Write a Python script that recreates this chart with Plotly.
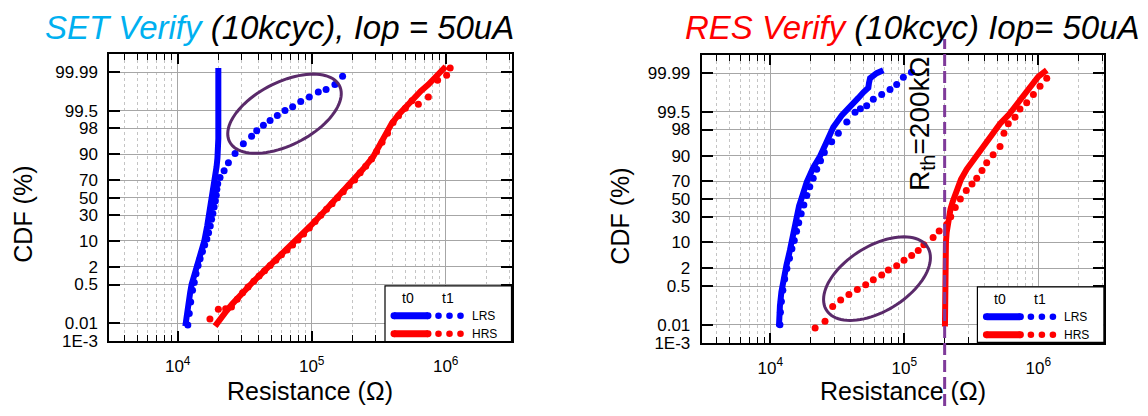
import math
from statistics import NormalDist
import plotly.graph_objects as go

W, H = 1148, 416
FONT = "Liberation Sans, Arial, sans-serif"

# ---------------- data (Resistance in ohm, CDF in %) ----------------
# Left panel: SET Verify
set_lrs_t0_r = [11400, 11600, 12000, 12400, 12700, 13300, 13900, 14800, 15800, 16600, 17400,
                18200, 18700, 19000, 19500, 19800, 20000, 20100, 20100, 20100, 20100]
set_lrs_t0_cdf = [0.007, 0.02, 0.08, 0.25, 0.5, 1, 2, 5, 10, 20, 35,
                  50, 62, 70, 82, 88, 92, 96, 99.5, 99.95, 99.994]

set_lrs_t1_r = [11900, 12200, 12500, 12900, 13300, 13700, 14200, 14700, 15300, 15900, 16500,
                17000, 17500, 17900, 18300, 18700, 19100, 19400, 19600, 19900, 20700, 22200,
                23900, 26800, 30900, 35600, 38900, 43600, 48900, 55400, 63200, 72100, 82800,
                96000, 112000, 128000, 149000, 170000]
set_lrs_t1_cdf = [0.008, 0.03, 0.1, 0.3, 0.6, 1.2, 2.2, 3.5, 5.5, 8, 11,
                  15, 20, 26, 32, 39, 46, 53, 60, 66, 72.6, 78.7,
                  85.0, 90.45, 94.5, 96.6, 97.63, 98.41, 98.90, 99.26, 99.51, 99.65, 99.782,
                  99.859, 99.913, 99.933, 99.960, 99.984]

set_hrs_t0_r = [19000, 20500, 23200, 25500, 28000, 30900, 34000, 37300, 40800, 44300, 51800,
                59600, 68200, 77300, 90200, 103000, 122000, 145000, 171000, 205000, 241000,
                289000, 321000, 353000, 395000, 443000, 490000, 574000, 651000, 742000,
                832000, 960000, 1000000]
set_hrs_t0_cdf = [0.007, 0.015, 0.04, 0.08, 0.15, 0.28, 0.45, 0.7, 1.05, 1.5, 2.8,
                  4.6, 7.0, 10, 16, 22.7, 33, 45, 57, 69, 80,
                  89, 94, 96.8, 98.6, 99.3, 99.6, 99.85, 99.92, 99.96,
                  99.98, 99.992, 99.995]

set_hrs_t1_r = [17400, 20100, 22800, 25200, 27800, 30500, 33500, 37000, 40500, 44500, 49000,
                54000, 59500, 65500, 72000, 79000, 87000, 96000, 106000, 117000, 129000,
                142000, 156000, 172000, 190000, 209000, 230000, 253000, 280000, 305000,
                335000, 368000, 405000, 445000, 500000, 560000, 625000, 742000, 870000,
                1016000, 1080000]
set_hrs_t1_cdf = [0.016, 0.047, 0.05, 0.06, 0.13, 0.24, 0.4, 0.66, 1.0, 1.5, 2.2,
                  3.2, 4.5, 6.0, 8.0, 10.5, 14, 18.5, 24, 30, 36.5,
                  43, 50, 57, 64, 70, 77, 82.5, 87.5, 91.5,
                  95, 97.2, 98.7, 99.25, 99.6, 99.8, 99.72, 99.86, 99.975,
                  99.986, 99.994]

# Right panel: RES Verify
res_lrs_t0_r = [11600, 11650, 11800, 12100, 12500, 13200, 14000, 14800, 15700, 16400, 17100,
                18700, 20900, 23500, 26400, 29500, 34100, 39400, 45400, 49500, 53900,
                54500, 55500, 62200, 69700]
res_lrs_t0_cdf = [0.008, 0.03, 0.08, 0.3, 0.84, 2.5, 6.4, 15, 32, 42, 50.6,
                  69, 82.3, 89.7, 95.5, 98.3, 99.32, 99.66, 99.86, 99.92, 99.95,
                  99.97, 99.982, 99.99, 99.993]

res_lrs_t1_r = [11800, 11900, 12100, 12400, 12800, 13300, 13900, 14500, 15100, 15700, 16300,
                17000, 17800, 18700, 19700, 20900, 22200, 23700, 25300, 28700, 32200,
                37200, 42900, 47000, 52400, 58700, 67800, 78200, 87700, 98400, 113000]
res_lrs_t1_cdf = [0.01, 0.04, 0.12, 0.35, 0.9, 2.0, 4.0, 7.0, 11, 17, 24,
                  33, 43, 54, 64, 73, 81, 87, 91.5, 95.5, 97.4,
                  98.86, 99.48, 99.62, 99.71, 99.84, 99.90, 99.94, 99.964, 99.984, 99.991]

res_hrs_t0_r = [201000, 201000, 201000, 201500, 202000, 202500, 203000, 204500, 207000, 210000,
                214000, 221000, 230000, 246000, 265000, 292000, 335000, 389000, 450000, 518000,
                600000, 690000, 800000, 919000, 1000000, 1156000]
res_hrs_t0_cdf = [0.008, 0.03, 0.1, 0.4, 1.2, 3, 6, 10, 16, 22,
                  29, 38, 47, 62, 72, 81, 88.5, 94, 97, 98.7,
                  99.35, 99.75, 99.9, 99.97, 99.985, 99.993]

res_hrs_t1_r = [21600, 25600, 29200, 33500, 38600, 44600, 51500, 58700, 67800, 76000, 87700,
                99500, 113500, 127000, 140000, 164000, 182000, 207000, 222000, 240000, 262000,
                290000, 320000, 347000, 380000, 412000, 460000, 518000, 554000, 597000, 670000,
                730000, 819000, 919000, 1030000, 1156000]
res_hrs_t1_cdf = [0.0068, 0.0147, 0.074, 0.141, 0.236, 0.368, 0.562, 0.84, 1.235, 1.78, 2.41,
                  3.49, 4.75, 6.36, 8.82, 12.7, 17.2, 22.5, 30, 40, 50,
                  60, 67, 73, 80, 85.8, 90.5, 94, 97.4, 98.7, 99.22,
                  99.61, 99.78, 99.90, 99.957, 99.982]

R_TH = 200000  # threshold resistance (ohm)

Y_TICKS = [0.001, 0.01, 0.5, 2, 10, 30, 50, 70, 90, 98, 99.5, 99.99]
Y_TICK_TEXT = ["1E-3", "0.01", "0.5", "2", "10", "30", "50", "70", "90", "98", "99.5", "99.99"]
X_MAJOR = [1e4, 1e5, 1e6]
X_MAJOR_TEXT = ["10<sup>4</sup>", "10<sup>5</sup>", "10<sup>6</sup>"]
X_MINOR = [m * 10 ** e for e in (3, 4, 5, 6) for m in range(2, 10)]

BLUE = "#0000FF"
RED = "#FF0000"
PURPLE_ELL = "#5A2A6A"
PURPLE_DASH = "#7F3A9A"

nd = NormalDist()


def probit(vals):
    return [nd.inv_cdf(v / 100.0) for v in vals]


ZLIM = -nd.inv_cdf(0.001 / 100.0)

# ---------------- layout geometry (pixels) ----------------
L_X0, L_X1 = 109.3, 511.5
R_X0, R_X1 = 701.7, 1103.7
L_Y0, L_Y1 = 55.2, 349.9
R_Y0, R_Y1 = 56.1, 351.6
XR_L = [3.4896, 6.491]
XR_R = [3.488, 6.488]

fig = go.Figure()


def add_series(r, cdf, color, dotted, xa, ya):
    if dotted:
        fig.add_trace(go.Scatter(x=r, y=probit(cdf), mode="markers", xaxis=xa, yaxis=ya,
                                 marker=dict(color=color, size=7, line=dict(width=0)),
                                 showlegend=False, hoverinfo="skip"))
    else:
        fig.add_trace(go.Scatter(x=r, y=probit(cdf), mode="lines", xaxis=xa, yaxis=ya,
                                 line=dict(color=color, width=6),
                                 showlegend=False, hoverinfo="skip"))


add_series(set_lrs_t0_r, set_lrs_t0_cdf, BLUE, False, "x", "y")
add_series(set_hrs_t0_r, set_hrs_t0_cdf, RED, False, "x", "y")
add_series(set_lrs_t1_r, set_lrs_t1_cdf, BLUE, True, "x", "y")
add_series(set_hrs_t1_r, set_hrs_t1_cdf, RED, True, "x", "y")
add_series(res_lrs_t0_r, res_lrs_t0_cdf, BLUE, False, "x2", "y2")
add_series(res_hrs_t0_r, res_hrs_t0_cdf, RED, False, "x2", "y2")
add_series(res_lrs_t1_r, res_lrs_t1_cdf, BLUE, True, "x2", "y2")
add_series(res_hrs_t1_r, res_hrs_t1_cdf, RED, True, "x2", "y2")


def xaxis(x0, x1, rng, anchor):
    return dict(type="log", range=rng, domain=[x0 / W, x1 / W], anchor=anchor,
                tickmode="array", tickvals=X_MAJOR, ticktext=X_MAJOR_TEXT,
                ticks="inside", ticklen=10, tickwidth=1.5, tickcolor="black",
                showline=True, linecolor="black", linewidth=2, mirror="ticks",
                showgrid=True, gridcolor="#a6a6a6", gridwidth=1, zeroline=False,
                minor=dict(tickmode="array", tickvals=X_MINOR, ticks="inside", ticklen=6,
                           tickwidth=1.2, tickcolor="black", showgrid=True,
                           gridcolor="#c4c4c4", griddash="dot", gridwidth=1),
                tickfont=dict(size=17, color="black", family=FONT), ticklabelstandoff=8)


def yaxis(y0, y1, anchor):
    return dict(type="linear", range=[-ZLIM, ZLIM], domain=[1 - y1 / H, 1 - y0 / H], anchor=anchor,
                tickmode="array", tickvals=probit(Y_TICKS), ticktext=Y_TICK_TEXT,
                ticks="inside", ticklen=11, tickwidth=1.5, tickcolor="black",
                showline=True, linecolor="black", linewidth=2, mirror="ticks",
                showgrid=True, gridcolor="#a6a6a6", gridwidth=1, zeroline=False,
                tickfont=dict(size=17, color="black", family=FONT), ticklabelstandoff=6)


shapes = []
annotations = []


def px(x):
    return x / W


def py(y):
    return 1 - y / H


def ellipse_path(cx, cy, a, b, ang_deg, n=90):
    th = math.radians(ang_deg)
    pts = []
    for i in range(n):
        t = 2 * math.pi * i / n
        ex = cx + a * math.cos(t) * math.cos(th) - b * math.sin(t) * math.sin(th)
        ey = cy - (a * math.cos(t) * math.sin(th) + b * math.sin(t) * math.cos(th))
        pts.append((px(ex), py(ey)))
    return "M " + " L ".join(f"{x:.5f},{y:.5f}" for x, y in pts) + " Z"


shapes.append(dict(type="path", xref="paper", yref="paper", path=ellipse_path(284.5, 116.5, 62, 32, 28),
                   line=dict(color=PURPLE_ELL, width=3), fillcolor="rgba(0,0,0,0)"))
shapes.append(dict(type="path", xref="paper", yref="paper", path=ellipse_path(877, 285.5, 60, 33, 33),
                   line=dict(color=PURPLE_ELL, width=3), fillcolor="rgba(0,0,0,0)"))

# threshold line (shape positions on a log axis are given as data values)
shapes.append(dict(type="line", xref="x2", yref="paper", x0=R_TH, x1=R_TH,
                   y0=0, y1=py(40), line=dict(color=PURPLE_DASH, width=3, dash="12px,5px")))
annotations.append(dict(text="R<sub>th</sub>=200kΩ", xref="x2", yref="paper", x=math.log10(R_TH),
                        y=py(127), xanchor="right", yanchor="middle", xshift=-3, textangle=-90,
                        showarrow=False, font=dict(size=28, color="black", family=FONT)))


def legend(dx, dy):
    shapes.append(dict(type="rect", xref="paper", yref="paper",
                       x0=px(385 + dx), x1=px(511.5 + dx), y0=py(349.9 + dy), y1=py(293 + dy),
                       fillcolor="white", line=dict(color="black", width=1.2), layer="above"))
    for yy, col in ((323.5, BLUE), (342, RED)):
        shapes.append(dict(type="line", xref="paper", yref="paper", x0=px(394 + dx), x1=px(428 + dx),
                           y0=py(yy + dy), y1=py(yy + dy), line=dict(color=col, width=7)))
        for cx in (394, 428):
            shapes.append(dict(type="circle", xref="paper", yref="paper",
                               x0=px(cx - 3.5 + dx), x1=px(cx + 3.5 + dx),
                               y0=py(yy + 3.5 + dy), y1=py(yy - 3.5 + dy),
                               fillcolor=col, line=dict(width=0)))
        for cx in (438.5, 449.5, 460.5):
            shapes.append(dict(type="circle", xref="paper", yref="paper",
                               x0=px(cx - 3.3 + dx), x1=px(cx + 3.3 + dx),
                               y0=py(yy + 3.3 + dy), y1=py(yy - 3.3 + dy),
                               fillcolor=col, line=dict(width=0)))
    for txt, xx in (("t0", 408), ("t1", 448)):
        annotations.append(dict(text=txt, xref="paper", yref="paper", x=px(xx + dx), y=py(305 + dy),
                                xanchor="center", yanchor="middle", showarrow=False,
                                font=dict(size=14, color="black", family=FONT)))
    for txt, yy in (("LRS", 323.5), ("HRS", 342)):
        annotations.append(dict(text=txt, xref="paper", yref="paper", x=px(470 + dx), y=py(yy + dy),
                                xanchor="left", yanchor="middle", showarrow=False,
                                font=dict(size=12, color="black", family=FONT)))


legend(0, 0)
legend(592.4, 1.0)

# titles
annotations.append(dict(text="<i><span style='color:#00B0F0'>SET Verify</span> (10kcyc), Iop = 50uA</i>",
                        xref="paper", yref="paper", x=px(279), y=py(28), xanchor="center",
                        yanchor="middle", showarrow=False,
                        font=dict(size=33, color="black", family=FONT)))
annotations.append(dict(text="<i><span style='color:#FF0000'>RES Verify</span> (10kcyc) Iop= 50uA</i>",
                        xref="paper", yref="paper", x=px(912), y=py(28), xanchor="center",
                        yanchor="middle", showarrow=False,
                        font=dict(size=33, color="black", family=FONT)))
# axis titles
for cx, cy in ((23, 220), (620, 222)):
    annotations.append(dict(text="CDF (%)", xref="paper", yref="paper", x=px(cx), y=py(cy),
                            xanchor="center", yanchor="middle", textangle=-90, showarrow=False,
                            font=dict(size=25, color="black", family=FONT)))
for cx in (310, 903):
    annotations.append(dict(text="Resistance (Ω)", xref="paper", yref="paper", x=px(cx), y=py(401),
                            xanchor="center", yanchor="middle", showarrow=False,
                            font=dict(size=25, color="black", family=FONT)))

fig.update_layout(
    width=W, height=H, autosize=False,
    margin=dict(l=0, r=0, t=0, b=0, pad=0),
    paper_bgcolor="white", plot_bgcolor="white",
    showlegend=False,
    font=dict(family=FONT, color="black"),
    xaxis=xaxis(L_X0, L_X1, XR_L, "y"),
    yaxis=yaxis(L_Y0, L_Y1, "x"),
    xaxis2=xaxis(R_X0, R_X1, XR_R, "y2"),
    yaxis2=yaxis(R_Y0, R_Y1, "x2"),
    shapes=shapes,
    annotations=annotations,
)

fig.write_html("out.html")
